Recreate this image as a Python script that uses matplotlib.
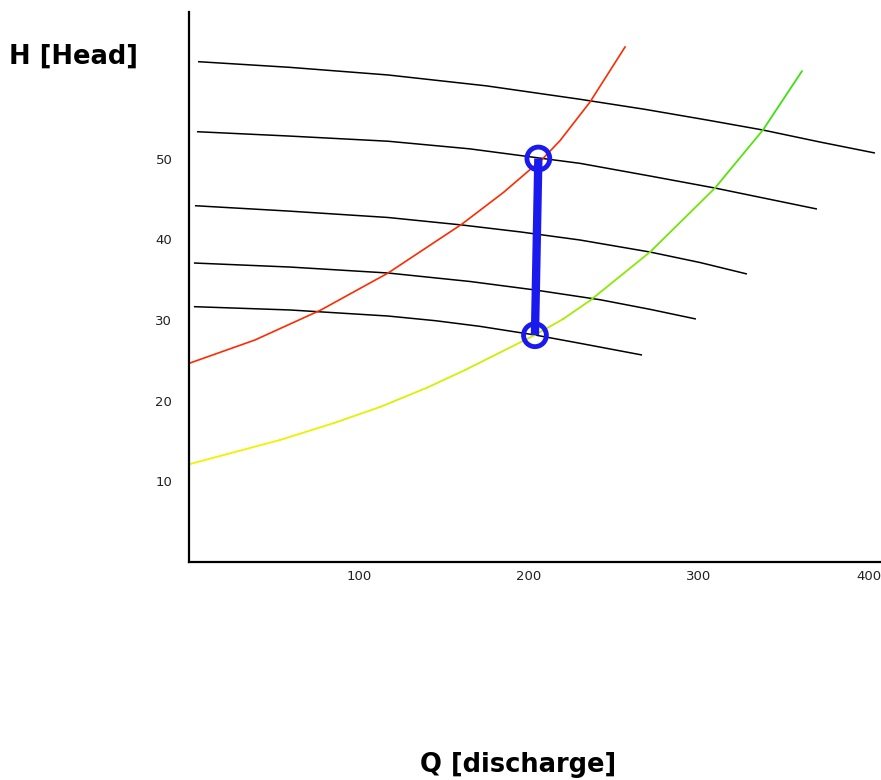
import numpy as np
import matplotlib
matplotlib.use("Agg")
import matplotlib.pyplot as plt
from matplotlib.collections import LineCollection
from matplotlib.colors import LinearSegmentedColormap

# ---- data ----
x_ticks = [100, 200, 300, 400]
y_ticks = [10, 20, 30, 40, 50]

# pump (head) curves, top to bottom
pump1_q = [5.3, 59.0, 117.1, 175.0, 230.0, 268.0, 304.7, 337.6, 371.2, 403.5]
pump1_h = [62.0, 61.3, 60.35, 59.0, 57.34, 56.1, 54.77, 53.53, 52.04, 50.68]

pump2_q = [4.7, 58.2, 117.1, 165.0, 208.2, 230.0, 271.2, 309.4, 369.4]
pump2_h = [53.32, 52.79, 52.14, 51.2, 50.0, 49.40, 47.83, 46.34, 43.74]

pump3_q = [3.5, 58.2, 117.1, 160.6, 195.0, 230.0, 271.2, 300.6, 328.2]
pump3_h = [44.15, 43.49, 42.69, 41.76, 40.9, 39.90, 38.41, 37.11, 35.69]

pump4_q = [2.9, 59.4, 117.1, 165.3, 203.5, 241.8, 271.2, 298.2]
pump4_h = [37.05, 36.55, 35.81, 34.76, 33.71, 32.5, 31.31, 30.11]

pump5_q = [2.9, 59.4, 117.1, 145.0, 171.2, 203.5, 230.0, 266.5]
pump5_h = [31.64, 31.23, 30.48, 29.9, 29.2, 28.13, 27.10, 25.65]

# system curves
red_q = [0.6, 38.8, 77.6, 117.1, 160.6, 185.0, 208.2, 218.2, 235.9, 256.5]
red_h = [24.66, 27.51, 31.23, 35.81, 41.88, 45.8, 50.0, 52.2, 57.0, 63.82]

green_q = [0.6, 53.5, 85.0, 112.4, 140.0, 162.4, 203.5, 220.0, 235.9, 271.2,
           309.4, 337.6, 360.6]
green_h = [12.14, 15.12, 17.2, 19.21, 21.6, 23.79, 28.13, 30.1, 32.4, 38.41,
           46.34, 53.53, 60.84]

# operating points (connected by the thick blue bar)
op_q = [205.5, 203.5]
op_h = [50.0, 28.1]

# ---- figure ----
W, H = 881, 780
fig = plt.figure(figsize=(W / 100, H / 100), dpi=100)
ax_left = 189 / W
ax_bottom = (H - 562) / H
ax_top = (H - 12) / H
ax = fig.add_axes([ax_left, ax_bottom, 1 - ax_left, ax_top - ax_bottom])
ax.set_xlim(0, (W - 189) / 1.70)
ax.set_ylim(0, 550 / 8.07)

for q, h in [(pump1_q, pump1_h), (pump2_q, pump2_h), (pump3_q, pump3_h),
             (pump4_q, pump4_h), (pump5_q, pump5_h)]:
    ax.plot(q, h, color="black", lw=1.1, solid_capstyle="butt",
            solid_joinstyle="round", zorder=2)

ax.plot(red_q, red_h, color="#ff2a00", lw=1.2, solid_joinstyle="round", zorder=2)

# green/yellow system curve with colour shift
pts = np.column_stack([green_q, green_h]).reshape(-1, 1, 2)
segs = np.concatenate([pts[:-1], pts[1:]], axis=1)
cmap = LinearSegmentedColormap.from_list("yg", ["#f2f200", "#c8f000", "#3ee010"])
lc = LineCollection(segs, cmap=cmap, linewidths=1.3, zorder=2,
                    joinstyle="round", capstyle="round")
lc.set_array(np.linspace(0, 1, len(segs)))
ax.add_collection(lc)

ax.plot(op_q, op_h, color="#1a1aee", lw=6, solid_capstyle="butt", zorder=3)
ax.scatter(op_q, op_h, s=270, facecolors="none", edgecolors="#1a1aee",
           linewidths=3.5, zorder=4)

for side in ["top", "right"]:
    ax.spines[side].set_visible(False)
for side in ["left", "bottom"]:
    ax.spines[side].set_linewidth(1.6)
    ax.spines[side].set_color("black")

ax.set_xticks(x_ticks)
ax.set_xticklabels([str(v) for v in x_ticks])
ax.set_yticks(y_ticks)
ax.set_yticklabels([str(v) for v in y_ticks])
ax.tick_params(axis="both", length=0, labelsize=9.5, labelcolor="#222222")
ax.tick_params(axis="x", pad=6)
ax.tick_params(axis="y", pad=12)
ax.set_facecolor("white")

fig.text(9 / W, 1 - 57 / H, "H [Head]", fontsize=18.5, fontweight="bold",
         ha="left", va="center", family="DejaVu Sans")
fig.text(518 / W, 1 - 765 / H, "Q [discharge]", fontsize=18.5, fontweight="bold",
         ha="center", va="center", family="DejaVu Sans")

fig.savefig("out.png", dpi=100, facecolor="white")
